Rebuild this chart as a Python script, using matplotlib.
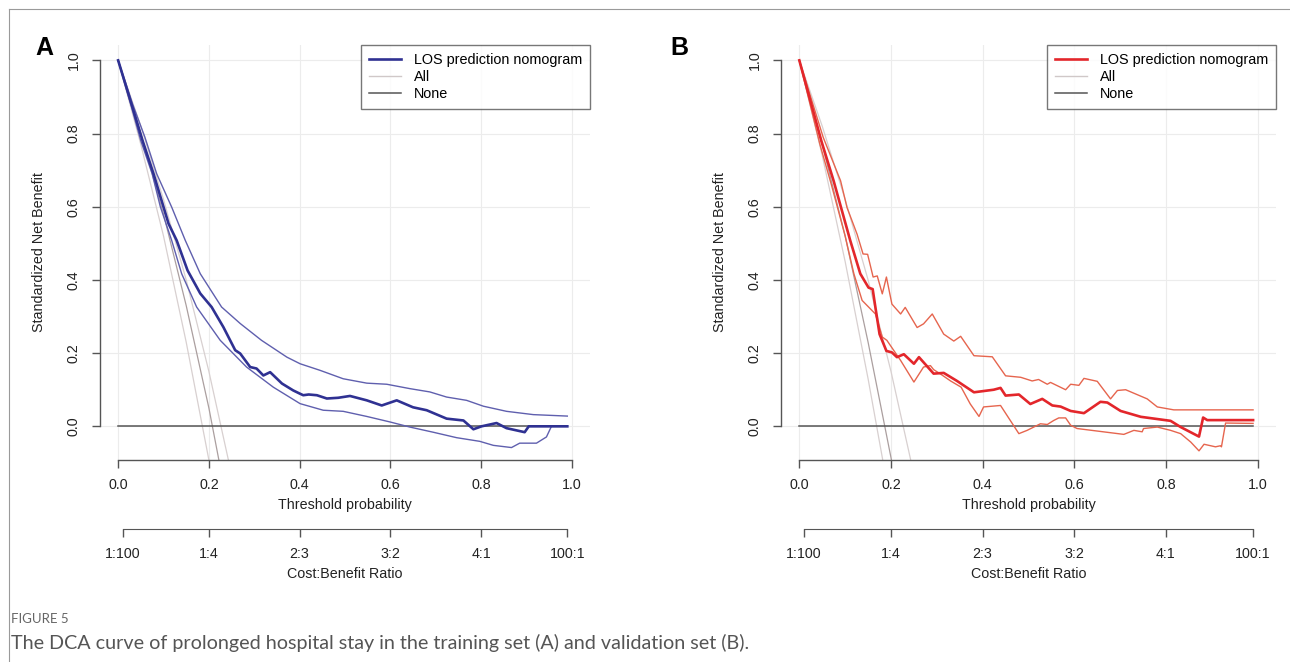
import matplotlib.pyplot as plt
from matplotlib.lines import Line2D

plt.rcParams['font.family'] = ['Liberation Sans', 'DejaVu Sans']

# ---- Panel A (training set) ----
a_main_x = [0, 0.032, 0.054, 0.078, 0.111, 0.129, 0.153, 0.181, 0.206, 0.232,
            0.258, 0.269, 0.291, 0.305, 0.320, 0.335, 0.361, 0.386, 0.401, 0.408,
            0.420, 0.438, 0.460, 0.485, 0.511, 0.548, 0.581, 0.614, 0.650, 0.680,
            0.724, 0.761, 0.783, 0.801, 0.834, 0.856, 0.896, 0.905, 0.99]
a_main_y = [1.0, 0.87, 0.78, 0.69, 0.554, 0.508, 0.426, 0.363, 0.326, 0.271,
            0.208, 0.199, 0.162, 0.158, 0.139, 0.148, 0.117, 0.098, 0.089, 0.085,
            0.087, 0.085, 0.076, 0.078, 0.083, 0.071, 0.057, 0.071, 0.052, 0.044,
            0.021, 0.016, -0.008, 0.0, 0.009, -0.005, -0.016, 0.0, 0.0]

a_up_x = [0, 0.032, 0.059, 0.085, 0.118, 0.148, 0.181, 0.228, 0.269, 0.316, 0.372, 0.401,
          0.445, 0.496, 0.548, 0.592, 0.643, 0.687, 0.724, 0.768, 0.805, 0.856, 0.915, 0.99]
a_up_y = [1.0, 0.88, 0.79, 0.69, 0.599, 0.508, 0.417, 0.326, 0.281, 0.235, 0.189, 0.171,
          0.153, 0.130, 0.118, 0.115, 0.103, 0.094, 0.080, 0.071, 0.055, 0.041, 0.032, 0.028]

a_lo_x = [0, 0.030, 0.050, 0.075, 0.093, 0.118, 0.140, 0.173, 0.225, 0.283, 0.342, 0.401,
          0.452, 0.496, 0.548, 0.599, 0.643, 0.694, 0.746, 0.797, 0.827, 0.867, 0.885,
          0.922, 0.944, 0.955, 0.99]
a_lo_y = [1.0, 0.87, 0.78, 0.69, 0.60, 0.508, 0.417, 0.326, 0.235, 0.162, 0.107, 0.062,
          0.044, 0.041, 0.027, 0.012, -0.002, -0.016, -0.031, -0.041, -0.052, -0.058, -0.046,
          -0.046, -0.029, 0.0, 0.0]

a_all_lo_x = [0, 0.05, 0.10, 0.15, 0.200]
a_all_lo_y = [1.0, 0.77, 0.52, 0.23, -0.092]
a_all_x = [0, 0.05, 0.10, 0.15, 0.20, 0.222]
a_all_y = [1.0, 0.80, 0.58, 0.33, 0.05, -0.092]
a_all_hi_x = [0, 0.05, 0.10, 0.15, 0.20, 0.243]
a_all_hi_y = [1.0, 0.82, 0.62, 0.40, 0.15, -0.092]

# ---- Panel B (validation set) ----
b_main_x = [0, 0.048, 0.075, 0.111, 0.133, 0.151, 0.160, 0.166, 0.175, 0.190,
            0.202, 0.213, 0.228, 0.250, 0.261, 0.293, 0.315, 0.344, 0.381, 0.424,
            0.439, 0.450, 0.479, 0.504, 0.530, 0.552, 0.570, 0.592, 0.621, 0.657,
            0.672, 0.701, 0.745, 0.810, 0.832, 0.872, 0.881, 0.890, 0.99]
b_main_y = [1.0, 0.78, 0.67, 0.508, 0.417, 0.379, 0.375, 0.325, 0.252, 0.206,
            0.202, 0.189, 0.197, 0.171, 0.189, 0.144, 0.146, 0.124, 0.093, 0.100,
            0.105, 0.084, 0.087, 0.061, 0.075, 0.057, 0.054, 0.042, 0.036, 0.067,
            0.065, 0.042, 0.026, 0.015, -0.002, -0.028, 0.024, 0.017, 0.017]

b_up_x = [0, 0.052, 0.090, 0.104, 0.126, 0.139, 0.149, 0.161, 0.170, 0.181,
          0.190, 0.202, 0.221, 0.231, 0.257, 0.271, 0.290, 0.315, 0.337, 0.352,
          0.381, 0.421, 0.450, 0.483, 0.508, 0.522, 0.541, 0.548, 0.581, 0.592,
          0.610, 0.621, 0.650, 0.679, 0.694, 0.712, 0.759, 0.781, 0.817, 0.99]
b_up_y = [1.0, 0.79, 0.671, 0.598, 0.525, 0.471, 0.470, 0.408, 0.411, 0.362,
          0.408, 0.334, 0.307, 0.325, 0.270, 0.280, 0.307, 0.252, 0.233, 0.246,
          0.193, 0.190, 0.138, 0.134, 0.124, 0.128, 0.115, 0.120, 0.100, 0.115,
          0.112, 0.131, 0.123, 0.075, 0.098, 0.100, 0.075, 0.053, 0.045, 0.045]

b_lo_x = [0, 0.045, 0.070, 0.100, 0.119, 0.137, 0.166, 0.181, 0.191, 0.221,
          0.250, 0.271, 0.286, 0.293, 0.308, 0.330, 0.353, 0.373, 0.392, 0.402,
          0.439, 0.479, 0.497, 0.526, 0.541, 0.555, 0.566, 0.581, 0.592, 0.606,
          0.708, 0.730, 0.748, 0.751, 0.781, 0.810, 0.832, 0.854, 0.872, 0.883,
          0.908, 0.919, 0.921, 0.930, 0.99]
b_lo_y = [1.0, 0.77, 0.66, 0.52, 0.417, 0.344, 0.307, 0.244, 0.235, 0.180,
          0.121, 0.162, 0.166, 0.155, 0.143, 0.124, 0.107, 0.061, 0.027, 0.053,
          0.057, -0.020, -0.011, 0.007, 0.005, 0.016, 0.023, 0.023, 0.003, -0.006,
          -0.022, -0.011, -0.015, -0.006, -0.002, -0.011, -0.020, -0.043, -0.067, -0.049,
          -0.056, -0.053, -0.056, 0.009, 0.008]

b_all_lo_x = [0, 0.05, 0.10, 0.15, 0.182]
b_all_lo_y = [1.0, 0.74, 0.45, 0.13, -0.092]
b_all_x = [0, 0.05, 0.10, 0.15, 0.201]
b_all_y = [1.0, 0.77, 0.52, 0.23, -0.092]
b_all_hi_x = [0, 0.05, 0.10, 0.15, 0.20, 0.243]
b_all_hi_y = [1.0, 0.82, 0.62, 0.40, 0.15, -0.092]

none_x = [0, 0.99]
none_y = [0, 0]

grid_ticks = [0.0, 0.2, 0.4, 0.6, 0.8, 1.0]
cb_ticks = [0.01, 0.2, 0.4, 0.6, 0.8, 0.99]
cb_labels = ['1:100', '1:4', '2:3', '3:2', '4:1', '100:1']

AXC = '#555555'

fig = plt.figure(figsize=(12.9, 6.62), dpi=100)


def panel(rect, main, up, lo, alls, main_col, ci_col):
    ax = fig.add_axes(rect)
    ax.set_xlim(-0.04, 1.04)
    ax.set_ylim(-0.092, 1.042)
    for g in grid_ticks:
        ax.axvline(g, color='#ececec', lw=0.8, zorder=0)
        ax.axhline(g, color='#ececec', lw=0.8, zorder=0)

    # All (with CI) and None
    ax.plot(*alls[0], color='#d8d0d0', lw=0.9)
    ax.plot(*alls[2], color='#d8d0d0', lw=0.9)
    ax.plot(*alls[1], color='#ab9f9f', lw=0.9)
    ax.plot(none_x, none_y, color='#555555', lw=1.1)

    ax.plot(*up, color=ci_col, lw=1.0)
    ax.plot(*lo, color=ci_col, lw=1.0)
    ax.plot(*main, color=main_col, lw=1.9)

    for s in ['top', 'right']:
        ax.spines[s].set_visible(False)
    ax.spines['left'].set_bounds(0, 1)
    ax.spines['bottom'].set_bounds(0, 1)
    for s in ['left', 'bottom']:
        ax.spines[s].set_color(AXC)
        ax.spines[s].set_linewidth(1.0)
    ax.set_xticks(grid_ticks)
    ax.set_yticks(grid_ticks)
    ax.set_xticklabels(['0.0', '0.2', '0.4', '0.6', '0.8', '1.0'])
    ax.set_yticklabels(['0.0', '0.2', '0.4', '0.6', '0.8', '1.0'],
                       rotation=90, va='center')
    ax.tick_params(length=6, width=1.0, color=AXC, labelsize=10.3,
                   labelcolor='#222222', pad=7)
    ax.tick_params(axis='y', pad=8)
    ax.set_xlabel('Threshold probability', fontsize=10.3, color='#222222', labelpad=4)
    ax.set_ylabel('Standardized Net Benefit', fontsize=10.3, color='#222222', labelpad=15)

    # Cost:Benefit axis below
    ax2 = ax.twiny()
    ax2.set_xlim(ax.get_xlim())
    ax2.xaxis.set_ticks_position('bottom')
    ax2.xaxis.set_label_position('bottom')
    for s in ['top', 'right', 'left']:
        ax2.spines[s].set_visible(False)
    ax2.spines['bottom'].set_position(('outward', 50))
    ax2.spines['bottom'].set_bounds(0.01, 0.99)
    ax2.spines['bottom'].set_color(AXC)
    ax2.set_xticks(cb_ticks)
    ax2.set_xticklabels(cb_labels)
    ax2.tick_params(length=6, width=1.0, color=AXC, labelsize=10.3,
                    labelcolor='#222222', pad=7)
    ax2.set_xlabel('Cost:Benefit Ratio', fontsize=10.3, color='#222222', labelpad=4)

    handles = [Line2D([], [], color=main_col, lw=1.9),
               Line2D([], [], color='#d0c8c8', lw=1.0),
               Line2D([], [], color='#555555', lw=1.1)]
    leg = ax.legend(handles, ['LOS prediction nomogram', 'All', 'None'],
                    loc='upper right', bbox_to_anchor=(1.0, 1.0), borderaxespad=0,
                    fontsize=10.4, frameon=True, fancybox=False, handlelength=2.2,
                    handletextpad=0.9, labelspacing=0.2, borderpad=0.55)
    leg.get_frame().set_edgecolor('#555555')
    leg.get_frame().set_linewidth(1.0)
    ax.set_zorder(2)
    ax.patch.set_visible(False)
    return ax


panel([100 / 1290, 1 - 460 / 662, 490 / 1290, 415 / 662],
      (a_main_x, a_main_y), (a_up_x, a_up_y), (a_lo_x, a_lo_y),
      [(a_all_lo_x, a_all_lo_y), (a_all_x, a_all_y), (a_all_hi_x, a_all_hi_y)],
      '#2f3192', '#5f5fae')
panel([781 / 1290, 1 - 460 / 662, 495 / 1290, 415 / 662],
      (b_main_x, b_main_y), (b_up_x, b_up_y), (b_lo_x, b_lo_y),
      [(b_all_lo_x, b_all_lo_y), (b_all_x, b_all_y), (b_all_hi_x, b_all_hi_y)],
      '#e3262b', '#e6654e')

fig.text(44 / 1290, 1 - 48 / 662, 'A', fontsize=18, fontweight='bold',
         ha='center', va='center')
fig.text(679 / 1290, 1 - 48 / 662, 'B', fontsize=18, fontweight='bold',
         ha='center', va='center')

# frame lines of the figure box
fig.add_artist(Line2D([9 / 1290, 1.0], [1 - 9 / 662, 1 - 9 / 662],
                      transform=fig.transFigure, color='#9a9a9a', lw=0.8))
fig.add_artist(Line2D([9 / 1290, 9 / 1290], [0.0, 1 - 9 / 662],
                      transform=fig.transFigure, color='#9a9a9a', lw=0.8))

fig.text(11 / 1290, 1 - 619 / 662, 'FIGURE 5', fontsize=9.5, color='#666666',
         ha='left', va='center', family=['Lato', 'DejaVu Sans'])
fig.text(11 / 1290, 1 - 643 / 662,
         'The DCA curve of prolonged hospital stay in the training set (A) and validation set (B).',
         fontsize=14.2, color='#555555', ha='left', va='center',
         family=['Lato', 'DejaVu Sans'])

fig.savefig('out.png', dpi=100)
